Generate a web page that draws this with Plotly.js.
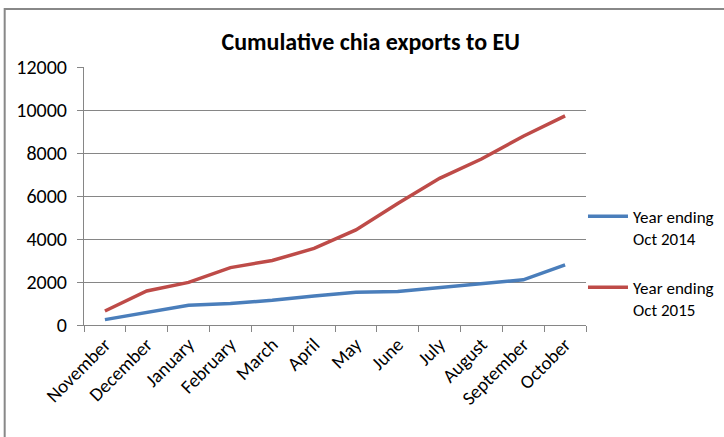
<!DOCTYPE html>
<html>
<head>
<meta charset="utf-8">
<script src="https://cdn.plot.ly/plotly-3.0.1.min.js"></script>
<style>html,body{margin:0;padding:0;background:#fff;}#chart{width:724px;height:437px;}</style>
</head>
<body>
<div id="chart"></div>
<script>
const months = ["November","December","January","February","March","April","May","June","July","August","September","October"];
const seriesNames = ["Year ending<br>Oct 2014","Year ending<br>Oct 2015"];
const y2014 = [250, 600, 920, 1000, 1150, 1350, 1520, 1560, 1750, 1900, 2100, 2800];
const y2015 = [650, 1580, 1980, 2670, 3000, 3560, 4420, 5650, 6820, 7720, 8780, 9730];
const yTicks = [0, 2000, 4000, 6000, 8000, 10000, 12000];

const FONT = "Carlito, Calibri, Lato, 'Liberation Sans', sans-serif";

const traces = [
  {x: months, y: y2014, name: seriesNames[0], type: 'scatter', mode: 'lines',
   line: {color: '#4A7EBB', width: 3.5}, legendgroup: 'a'},
  {x: months, y: y2015, name: seriesNames[1], type: 'scatter', mode: 'lines',
   line: {color: '#BE4B48', width: 3.5}, legendgroup: 'b'}
];

const layout = {
  width: 724, height: 437,
  margin: {l: 84, r: 138, t: 67, b: 112, autoexpand: false},
  paper_bgcolor: '#fff', plot_bgcolor: '#fff',
  font: {family: FONT, color: '#000', size: 18},
  title: {text: '<b>Cumulative chia exports to EU</b>', font: {family: FONT, size: 24, color: '#000'},
          x: 0.512, xanchor: 'center', y: 0.904, yanchor: 'middle', xref: 'container', yref: 'container'},
  xaxis: {type: 'category', range: [-0.5, 11.5], tickangle: -45, tickson: 'boundaries', ticks: 'outside', ticklen: 6,
          tickcolor: '#868686', showline: true, linecolor: '#868686', linewidth: 1,
          showgrid: false, tickfont: {family: FONT, size: 19, color: '#000'}, fixedrange: true},
  yaxis: {range: [0, 12000], tickvals: yTicks, ticktext: yTicks.map(String), ticks: 'outside', ticklen: 6,
          tickcolor: '#868686', showline: true, linecolor: '#868686', linewidth: 1,
          gridcolor: '#868686', gridwidth: 1, zeroline: false, ticklabelstandoff: 6,
          tickfont: {family: FONT, size: 20, color: '#000'}, fixedrange: true},
  showlegend: true,
  legend: {x: 0.994, xanchor: 'left', y: 0.49, yanchor: 'top', traceorder: 'grouped', tracegroupgap: 24,
           valign: 'top', itemwidth: 40, font: {family: FONT, size: 17, color: '#000'}, bgcolor: 'rgba(0,0,0,0)'},
  shapes: [
    {type: 'rect', xref: 'paper', yref: 'paper', x0: -0.158, x1: 1.5, y0: -0.6, y1: 1.225,
     line: {color: '#888888', width: 2}, fillcolor: 'rgba(0,0,0,0)', layer: 'below'}
  ]
};

Plotly.newPlot('chart', traces, layout, {staticPlot: true, displayModeBar: false});
</script>
</body>
</html>
